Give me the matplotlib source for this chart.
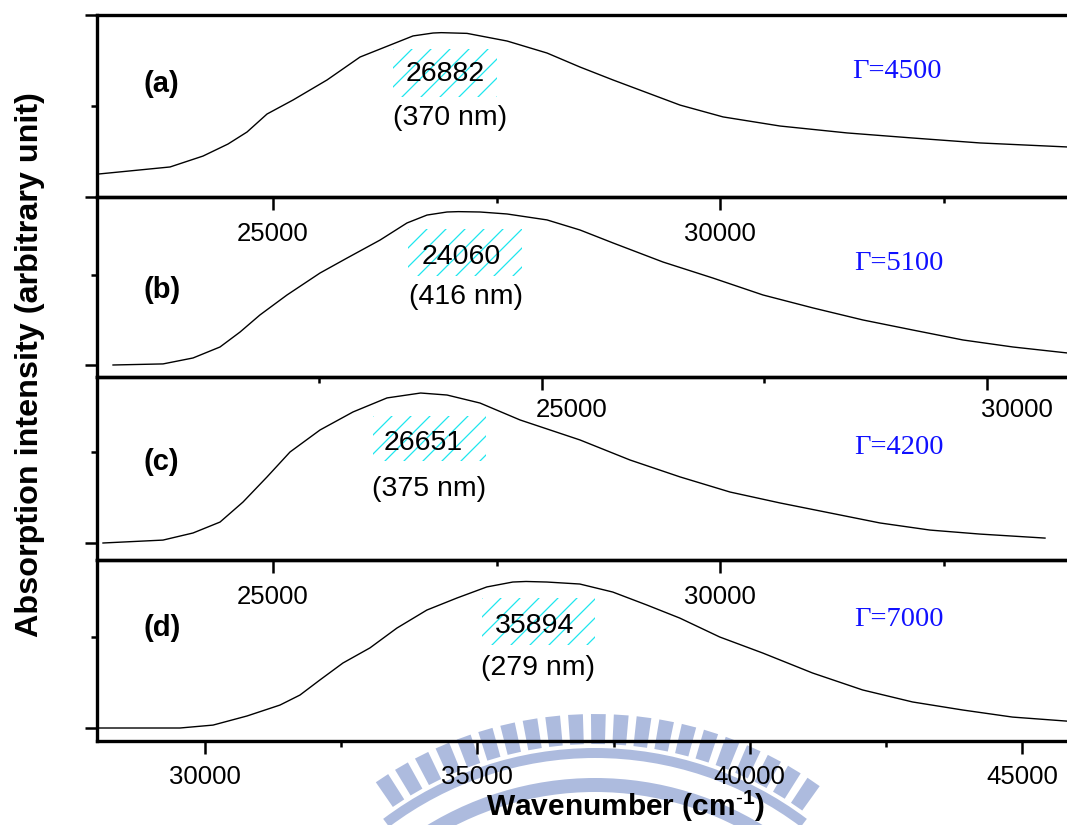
import numpy as np
import matplotlib
matplotlib.use("Agg")
import matplotlib.pyplot as plt
import matplotlib.transforms as mtransforms
from matplotlib.patches import Rectangle, Wedge, Polygon

plt.rcParams["font.family"] = ["Liberation Sans", "DejaVu Sans"]
plt.rcParams["mathtext.fontset"] = "custom"
plt.rcParams["mathtext.rm"] = "Liberation Sans"
plt.rcParams["mathtext.bf"] = "Liberation Sans:bold"

# ---------------- spectra ----------------
wn_a = [23042, 23848, 24217, 24496, 24709, 24933, 25224, 25604, 25973, 26566,
        26790, 26882, 27170, 27618, 28065, 28434, 28803, 29553, 30034, 30671,
        31421, 32159, 32908, 33881]
abs_a = [0.126, 0.165, 0.225, 0.291, 0.357, 0.456, 0.533, 0.643, 0.769, 0.885,
         0.901, 0.903, 0.899, 0.857, 0.791, 0.714, 0.643, 0.505, 0.440, 0.390,
         0.352, 0.324, 0.297, 0.275]

wn_b = [20180, 20742, 21079, 21382, 21607, 21831, 22135, 22506, 22809, 23180,
        23483, 23708, 23933, 24060, 24303, 24607, 25056, 25427, 25798, 26360,
        26921, 27483, 28045, 28607, 29169, 29730, 30292, 30899]
abs_b = [0.000, 0.006, 0.039, 0.100, 0.183, 0.278, 0.389, 0.511, 0.594, 0.694,
         0.789, 0.833, 0.850, 0.852, 0.850, 0.839, 0.806, 0.750, 0.678, 0.572,
         0.483, 0.389, 0.317, 0.250, 0.194, 0.139, 0.100, 0.067]

wn_c = [23098, 23769, 24105, 24407, 24664, 24933, 25190, 25526, 25895, 26275,
        26651, 26946, 27315, 27763, 28434, 28993, 29553, 30112, 30671, 31231,
        31790, 32349, 32908, 33635]
abs_c = [0.000, 0.016, 0.055, 0.115, 0.225, 0.363, 0.500, 0.621, 0.720, 0.797,
         0.824, 0.813, 0.769, 0.676, 0.566, 0.456, 0.363, 0.280, 0.220, 0.165,
         0.110, 0.071, 0.049, 0.027]

wn_d = [28018, 29541, 30147, 30771, 31376, 31743, 32110, 32532, 33028, 33523,
        34073, 34624, 35174, 35651, 35894, 36275, 36881, 37486, 38110, 38716,
        39450, 40239, 41156, 42074, 42991, 43909, 44826, 45817]
abs_d = [0.000, 0.000, 0.016, 0.066, 0.126, 0.181, 0.264, 0.357, 0.440, 0.549,
         0.648, 0.714, 0.775, 0.802, 0.805, 0.802, 0.791, 0.747, 0.676, 0.604,
         0.500, 0.412, 0.302, 0.209, 0.143, 0.099, 0.060, 0.038]

panel_tags = ["(a)", "(b)", "(c)", "(d)"]
peak_wn = ["26882", "24060", "26651", "35894"]
peak_nm = ["(370 nm)", "(416 nm)", "(375 nm)", "(279 nm)"]
gamma_txt = ["\u0393=4500", "\u0393=5100", "\u0393=4200", "\u0393=7000"]

xticks_major = [[25000, 30000], [25000, 30000], [25000, 30000],
                [30000, 35000, 40000, 45000]]
xticks_minor = [[27500, 32500], [22500, 27500], [27500, 32500],
                [32500, 37500, 42500]]
xtick_labels = [["25000", "30000"], ["25000", "30000"], ["25000", "30000"],
                ["30000", "35000", "40000", "45000"]]

# ---------------- layout (pixels) ----------------
FIG_W, FIG_H, DPI = 1067, 825, 100
LEFT, RIGHT = 97, 1067
panel_rows = [(15, 197), (197, 377), (377, 560), (560, 741)]
xlims = [(23031, 33881), (20000, 30899), (23031, 33881), (28017, 45826)]
ylims = [(0.0, 1.0), (-0.0667, 0.9333), (-0.0934, 0.912), (-0.0714, 0.923)]
ymajor = [[0.0, 1.0], [0.0], [0.0], [0.0]]
yminor = [[0.5], [0.5], [0.5], [0.5]]
label_shift_px = [0, 30, 0, 0]
label_pad = [9, 6, 9, 8.5]

tag_pos = [(161, 84), (162, 290), (161, 462), (162, 628)]
num_pos = [(445, 74), (461, 257), (423, 443), (535, 626)]
nm_pos = [(450, 118), (466, 297), (429, 489), (538, 668)]
gam_pos = [(897, 72), (899, 263), (899, 447), (899, 620)]
hatch_box = [(393, 49, 497, 97), (408, 229, 522, 276),
             (373, 416, 486, 461), (482, 598, 595, 645)]
HATCH_STEP = 19

series = [(wn_a, abs_a), (wn_b, abs_b), (wn_c, abs_c), (wn_d, abs_d)]

fig = plt.figure(figsize=(FIG_W / DPI, FIG_H / DPI), dpi=DPI)
fig.patch.set_facecolor("white")

# background layer in pixel units: faint logo and hatched label boxes
bg = fig.add_axes([0, 0, 1, 1], zorder=0)
bg.set_xlim(0, FIG_W)
bg.set_ylim(0, FIG_H)
bg.axis("off")
logo_col = "#adbbde"
cx, cy = 595, FIG_H - 1100
bg.add_patch(Wedge((cx, cy), 352, 53, 127, width=10, color=logo_col, lw=0))
bg.add_patch(Wedge((cx, cy), 322, 56, 124, width=14, color=logo_col, lw=0))
for ang in np.arange(55.5, 125.0, 3.4):
    t1, t2 = np.radians(ang - 1.1), np.radians(ang + 1.1)
    r1, r2 = 356, 386
    pts = [(cx + r1 * np.cos(t1), cy + r1 * np.sin(t1)),
           (cx + r2 * np.cos(t1), cy + r2 * np.sin(t1)),
           (cx + r2 * np.cos(t2), cy + r2 * np.sin(t2)),
           (cx + r1 * np.cos(t2), cy + r1 * np.sin(t2))]
    bg.add_patch(Polygon(pts, closed=True, color=logo_col, lw=0))

for (x0, y0, x1, y1) in hatch_box:
    h = y1 - y0
    clip = Rectangle((x0, FIG_H - y1), x1 - x0, h, fill=False, lw=0)
    bg.add_patch(clip)
    for a in np.arange(x0 - h, x1 + HATCH_STEP, HATCH_STEP):
        ln, = bg.plot([a, a + h], [FIG_H - y1, FIG_H - y0],
                      color="#1ee6ee", lw=0.9)
        ln.set_clip_path(clip)

for i, (top, bot) in enumerate(panel_rows):
    rect = [LEFT / FIG_W, 1 - bot / FIG_H, (RIGHT - LEFT) / FIG_W, (bot - top) / FIG_H]
    ax = fig.add_axes(rect, zorder=2 + i)
    ax.set_facecolor("none")
    wn, ab = series[i]
    ax.plot(wn, ab, color="black", lw=1.0)
    ax.set_xlim(*xlims[i])
    ax.set_ylim(*ylims[i])

    ax.set_xticks(xticks_major[i])
    ax.set_xticklabels(xtick_labels[i], fontsize=18.5)
    ax.set_xticks(xticks_minor[i], minor=True)
    ax.set_yticks(ymajor[i])
    ax.set_yticks(yminor[i], minor=True)
    ax.set_yticklabels([])
    ax.tick_params(which="major", direction="out", length=9, width=1.8,
                   pad=label_pad[i])
    ax.tick_params(which="minor", direction="out", length=4, width=1.8)
    ax.tick_params(axis="y", which="both", left=True, right=False)
    ax.tick_params(axis="x", which="both", bottom=True, top=False)

    for side in ("left", "bottom", "top"):
        ax.spines[side].set_linewidth(2.4)
    ax.spines["right"].set_visible(False)

    if label_shift_px[i]:
        off = mtransforms.ScaledTranslation(label_shift_px[i] / DPI, 0,
                                            fig.dpi_scale_trans)
        for lab in ax.get_xticklabels():
            lab.set_transform(lab.get_transform() + off)

    def ax_xy(px, py, top=top, bot=bot):
        return (px - LEFT) / (RIGHT - LEFT), (bot - py) / (bot - top)

    ax.text(*ax_xy(*tag_pos[i]), panel_tags[i], transform=ax.transAxes,
            ha="center", va="center", fontsize=21, fontweight="bold")
    ax.text(*ax_xy(*num_pos[i]), peak_wn[i], transform=ax.transAxes,
            ha="center", va="center", fontsize=20.5)
    ax.text(*ax_xy(*nm_pos[i]), peak_nm[i], transform=ax.transAxes,
            ha="center", va="center", fontsize=20.5)
    ax.text(*ax_xy(*gam_pos[i]), gamma_txt[i], transform=ax.transAxes,
            ha="center", va="center", fontsize=20.5, color="#1010ff",
            family=["Liberation Serif", "DejaVu Serif"])

    if i == 3:
        ax.set_xlabel(r"Wavenumber (cm$^{\mathbf{\text{-}1}}$)", fontsize=21.5,
                      fontweight="bold")
        ax.xaxis.set_label_coords((626 - LEFT) / (RIGHT - LEFT),
                                  (bot - 788.5) / (bot - top))

fig.text(30 / FIG_W, 1 - 365 / FIG_H, "Absorption intensity (arbitrary unit)",
         rotation=90, ha="center", va="center", fontsize=23.3, fontweight="bold")

fig.savefig("out.png", dpi=DPI, facecolor="white")
